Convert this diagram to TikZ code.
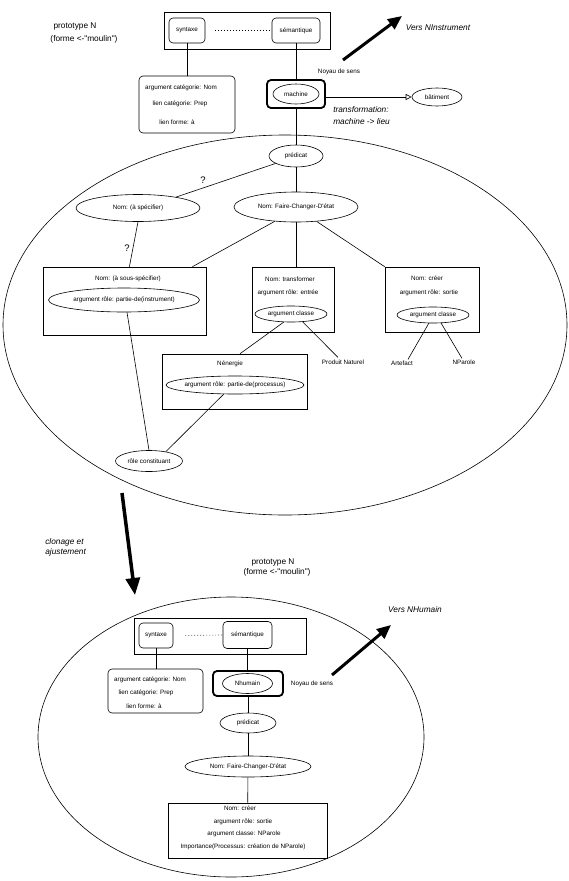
\documentclass[tikz,border=0pt]{standalone}
\usepackage{fontspec}
\setmainfont{Liberation Sans}[Ligatures=TeXOff]
\usetikzlibrary{shapes.geometric,arrows.meta,calc}
\newcommand\zw[1]{\makebox[0pt]{#1}}
\begin{document}
\begin{tikzpicture}[x=1pt,y=-1pt, line width=0.6pt,
  sm/.style={font=\fontsize{6.3}{7}\selectfont, inner sep=0pt},
  big/.style={font=\fontsize{8.3}{9}\selectfont, inner sep=0pt},
  qm/.style={font=\fontsize{9.5}{10}\selectfont, inner sep=0pt},
  itl/.style={font=\fontsize{8.3}{9}\selectfont\itshape, inner sep=0pt},
  ell/.style={draw, ellipse, inner sep=0pt, font=\fontsize{6.3}{7}\selectfont},
  rbox/.style={draw, rectangle, rounded corners=4pt, inner sep=0pt, font=\fontsize{6.3}{7}\selectfont},
  sqbox/.style={draw, rectangle, inner sep=0pt},
  core/.style={draw, rectangle, line width=1.8pt, rounded corners=4pt, inner sep=0pt},
  world/.style={draw, ellipse, inner sep=0pt},
  bigarrow/.style={line width=3pt, -{Triangle[length=14pt,width=12pt]}},
  bigarrowv/.style={line width=3.5pt, -{Triangle[length=17pt,width=14pt]}},
  dots/.style={dash pattern=on 0.8pt off 2.2pt}
]
\useasboundingbox (0,0) rectangle (569,881);

% ---------------- top prototype ----------------
\node[big] (proto1) at (75,27) {prototype N};
\node[big] (forme1) at (84,39.5) {(forme <-"moulin")};

\node[sqbox, minimum width=166pt, minimum height=37pt] (frame1) at (247,30.5) {};
\node[rbox, minimum width=36pt, minimum height=25pt] (syn1) at (187,30.5) {syntaxe};
\node[rbox, minimum width=48pt, minimum height=25pt] (sem1) at (296,30.5) {sémantique};
\draw[dots, shorten <=10pt] (syn1.east) -- (sem1.west);

\node[rbox, minimum width=96pt, minimum height=57pt] (arg1) at (187,104.5) {};
\node[sm] (arg1a) at (181,88) {argument catégorie: Nom};
\node[sm] (arg1b) at (180,104) {lien catégorie: Prep};
\node[sm] (arg1c) at (177,122) {lien forme: à};
\draw (syn1) -- (arg1);

\node[core, minimum width=58pt, minimum height=28pt] (mach) at (296,94) {};
\node[ell, minimum width=46pt, minimum height=20pt] (machE) at (296,94) {\zw{machine}};
\draw (sem1) -- (mach);
\node[sm] (noy1) at (339,72) {Noyau de sens};
\node[ell, minimum width=50pt, minimum height=18pt] (bat) at (437,97) {\zw{bâtiment}};
\draw[-{Triangle[open,length=6pt,width=6pt]}] (mach.east |- bat.west) -- (bat.west);
\node[itl, anchor=west] (tr1) at (333,110) {transformation:};
\node[itl, anchor=west] (tr2) at (333,122) {machine -> lieu};

\coordinate (vi0) at (343,60);
\coordinate (vi1) at (402,16);
\draw[bigarrow] (vi0) -- (vi1);
\node[itl] (vitxt) at (438,28) {Vers NInstrument};

\node[world, minimum width=564pt, minimum height=380pt] (world1) at (285,325) {};
\node[ell, minimum width=54pt, minimum height=22pt] (pred1) at (296,156) {\zw{prédicat}};
\draw (mach) -- (pred1);

\node[ell, minimum width=124pt, minimum height=27pt] (asp) at (138,208) {\zw{Nom: (à spécifier)}};
\node[ell, minimum width=124pt, minimum height=30pt] (faire1) at (296,207) {\zw{Nom: Faire-Changer-D'état}};
\draw (pred1.200) -- (asp.16);
\node[qm] (q1) at (203,180) {?};
\draw (pred1) -- (faire1);

\node[sqbox, minimum width=163pt, minimum height=68pt] (sous) at (124.5,301) {};
\node[sm] (sousT) at (128,279) {Nom: (à sous-spécifier)};
\node[ell, minimum width=151pt, minimum height=24pt] (pinst) at (124,300) {\zw{argument rôle: partie-de(instrument)}};
\draw (asp.south) -- ($(sous.north west)!0.53!(sous.north east)$);
\node[qm] (q2) at (127,248) {?};
\draw (faire1.214) -- ($(sous.north west)!0.915!(sous.north east)$);

\node[sqbox, minimum width=82pt, minimum height=65pt] (trans) at (293,299.5) {};
\node[sm] (transT) at (290,279) {Nom: transformer};
\node[sm] (transR) at (288,293) {argument rôle: entrée};
\node[ell, minimum width=72pt, minimum height=16pt] (acl1) at (291,314) {\zw{argument classe}};
\draw (faire1.south) -- (faire1.south |- trans.north);

\node[sqbox, minimum width=94pt, minimum height=65pt] (creer) at (432,299.5) {};
\node[sm] (creerT) at (427,278) {Nom: créer};
\node[sm] (creerR) at (429,293) {argument rôle: sortie};
\node[ell, minimum width=72pt, minimum height=16pt] (acl2) at (433,315) {\zw{argument classe}};
\draw (faire1.325) -- (creer.north west);

\node[sm] (pn) at (343,362) {Produit Naturel};
\node[sm] (art) at (402,363) {Artefact};
\node[sm] (npar) at (464,362) {NParole};
\draw (acl1.-34) -- ($(pn.north)+(-5,-2)$);
\draw (acl2.243) -- ($(art.north)+(6,-1)$);
\draw (acl2.315) -- ($(npar.north)+(-2,-1)$);

\node[sqbox, minimum width=145pt, minimum height=55pt] (nrg) at (234.5,381.5) {};
\node[sm] (nrgT) at (230,364) {Nénergie};
\node[ell, minimum width=138pt, minimum height=18pt] (ppro) at (235,385) {\zw{argument rôle: partie-de(processus)}};
\draw (acl1.228) -- ($(nrg.north west)!0.538!(nrg.north east)$);

\node[ell, minimum width=67pt, minimum height=21pt] (rc) at (149,461) {\zw{rôle constituant}};
\draw ($(pinst.south)+(3,0)$) -- (rc.north);
\draw (ppro.219) -- (rc.29);

% ---------------- cloning arrow ----------------
\coordinate (cl0) at (122,493);
\coordinate (cl1) at (135,595);
\draw[bigarrowv] (cl0) -- (cl1);
\node[itl, anchor=west] (cl2) at (45,542) {clonage et};
\node[itl, anchor=west] (cl3) at (45,552) {ajustement};

% ---------------- bottom prototype ----------------
\node[big] (proto2) at (273,562) {prototype N};
\node[big] (forme2) at (277,572) {(forme <-"moulin")};
\node[world, minimum width=386pt, minimum height=280pt] (world2) at (231,737) {};

\node[sqbox, minimum width=172pt, minimum height=36pt] (frame2) at (220,636) {};
\node[rbox, minimum width=34pt, minimum height=25pt] (syn2) at (156,635.5) {syntaxe};
\node[rbox, minimum width=49pt, minimum height=27pt] (sem2) at (247.5,635) {sémantique};
\draw[dots, shorten <=12pt] (syn2.east) -- (sem2.west);

\node[rbox, minimum width=95pt, minimum height=44pt] (arg2) at (155.5,691) {};
\node[sm] (arg2a) at (150,680) {argument catégorie: Nom};
\node[sm] (arg2b) at (146,693) {lien catégorie: Prep};
\node[sm] (arg2c) at (144,706) {lien forme: à};
\draw (syn2.south) -- (syn2.south |- arg2.north);

\node[core, minimum width=70pt, minimum height=25pt] (mach2) at (248,683.5) {};
\node[ell, minimum width=50pt, minimum height=20pt] (nhum) at (247.5,683.5) {\zw{Nhumain}};
\draw (sem2.south) -- (sem2.south |- mach2.north);
\node[sm] (noy2) at (312,684) {Noyau de sens};

\coordinate (vh0) at (332,675);
\coordinate (vh1) at (391,625);
\draw[bigarrow] (vh0) -- (vh1);
\node[itl] (vhtxt) at (415,610) {Vers NHumain};

\node[ell, minimum width=56pt, minimum height=20pt] (pred2) at (248,723) {\zw{prédicat}};
\draw (mach2) -- (pred2);
\node[ell, minimum width=126pt, minimum height=21pt] (faire2) at (248,766.5) {\zw{Nom: Faire-Changer-D'état}};
\draw (pred2) -- (faire2);

\node[sqbox, minimum width=159pt, minimum height=55pt] (box2) at (247.5,830.5) {};
\node[sm] (box2a) at (240,808) {Nom: créer};
\node[sm] (box2b) at (243,822) {argument rôle: sortie};
\node[sm] (box2c) at (244,834) {argument classe: NParole};
\node[sm] (box2d) at (243,847) {Importance(Processus: création de NParole)};
\draw (faire2) -- (box2);
\end{tikzpicture}
\end{document}
